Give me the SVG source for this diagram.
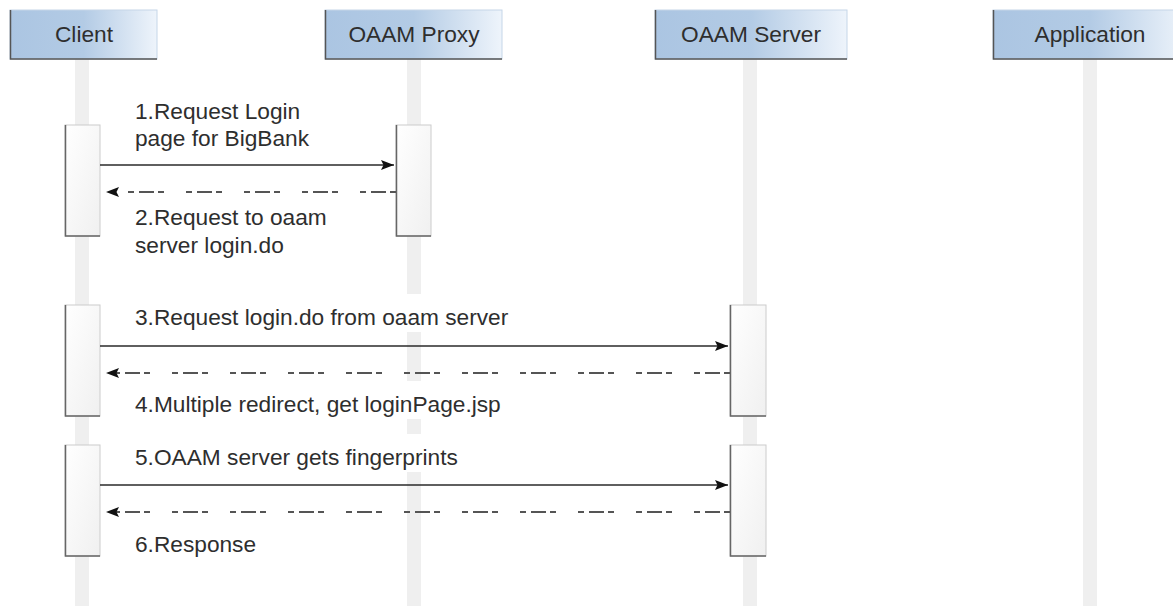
<svg xmlns="http://www.w3.org/2000/svg" width="1173" height="606" viewBox="0 0 1173 606">
  <defs>
    <linearGradient id="hdr" x1="0" y1="0" x2="1" y2="0">
      <stop offset="0" stop-color="#abc5e2"/>
      <stop offset="0.5" stop-color="#b3cbe5"/>
      <stop offset="1" stop-color="#eef4fb"/>
    </linearGradient>
    <linearGradient id="act" x1="0" y1="0" x2="1" y2="1">
      <stop offset="0" stop-color="#ffffff"/>
      <stop offset="1" stop-color="#f0f0f0"/>
    </linearGradient>
    <marker id="ah" markerUnits="userSpaceOnUse" markerWidth="16" markerHeight="12" refX="13" refY="6" orient="auto">
      <path d="M0,1 L13,6 L0,11 L2.5,6 z" fill="#111"/>
    </marker>
  </defs>
  <style>
    text { font-family: "Liberation Sans", Arial, sans-serif; font-size: 22.7px; fill: #2e2e2e; }
    .hdr rect.b { fill: url(#hdr); stroke: #c5d6e8; stroke-width: 1; }
    .hdr .sh { stroke: #555; stroke-width: 1.5; fill: none; }
    .life { fill: #efefef; }
    .act rect.b { fill: url(#act); stroke: #cccccc; stroke-width: 1; }
    .act .sh { stroke: #666; stroke-width: 1.5; fill: none; }
    .msg { stroke: #2a2a2a; stroke-width: 1.6; fill: none; marker-end: url(#ah); }
    .ret { stroke: #555; stroke-width: 1.8; fill: none; stroke-dasharray: 6 4 15 5 6 22; marker-end: url(#ah); }
    .lbg { fill: #ffffff; }
  </style>

  <!-- lifelines -->
  <g id="lifelines">
    <rect class="life" x="75" y="59" width="14" height="547"/>
    <rect class="life" x="407" y="59" width="14" height="547"/>
    <rect class="life" x="743" y="59" width="14" height="547"/>
    <rect class="life" x="1083" y="59" width="14" height="547"/>
  </g>

  <!-- headers -->
  <g id="client" class="hdr">
    <rect class="b" x="10" y="10" width="147" height="49"/>
    <path class="sh" d="M10.5,10 V59 H157"/>
    <text x="84" y="42" text-anchor="middle">Client</text>
  </g>
  <g id="proxy" class="hdr">
    <rect class="b" x="325" y="10" width="177" height="49"/>
    <path class="sh" d="M325.5,10 V59 H502"/>
    <text x="414" y="42" text-anchor="middle">OAAM Proxy</text>
  </g>
  <g id="server" class="hdr">
    <rect class="b" x="655" y="10" width="192" height="49"/>
    <path class="sh" d="M655.5,10 V59 H847"/>
    <text x="751" y="42" text-anchor="middle">OAAM Server</text>
  </g>
  <g id="application" class="hdr">
    <rect class="b" x="993" y="10" width="194" height="49"/>
    <path class="sh" d="M993.5,10 V59 H1187"/>
    <text x="1090" y="42" text-anchor="middle">Application</text>
  </g>

  <!-- label backgrounds -->
  <g id="label-bg">
    <rect class="lbg" x="130" y="294" width="388" height="38"/>
    <rect class="lbg" x="130" y="381" width="378" height="38"/>
    <rect class="lbg" x="130" y="434" width="300" height="38"/>
  </g>

  <!-- activation bars -->
  <g id="act-client-1" class="act">
    <rect class="b" x="65" y="125" width="35" height="111"/>
    <path class="sh" d="M65.5,125 V236 H100"/>
  </g>
  <g id="act-proxy-1" class="act">
    <rect class="b" x="396" y="125" width="35" height="111"/>
    <path class="sh" d="M396.5,125 V236 H431"/>
  </g>
  <g id="act-client-2" class="act">
    <rect class="b" x="65" y="305" width="35" height="111"/>
    <path class="sh" d="M65.5,305 V416 H100"/>
  </g>
  <g id="act-server-2" class="act">
    <rect class="b" x="730" y="305" width="36" height="111"/>
    <path class="sh" d="M730.5,305 V416 H766"/>
  </g>
  <g id="act-client-3" class="act">
    <rect class="b" x="65" y="445" width="35" height="111"/>
    <path class="sh" d="M65.5,445 V556 H100"/>
  </g>
  <g id="act-server-3" class="act">
    <rect class="b" x="730" y="445" width="36" height="111"/>
    <path class="sh" d="M730.5,445 V556 H766"/>
  </g>

  <!-- connectors -->
  <g id="connectors">
    <line class="msg" x1="100" y1="165" x2="394" y2="165"/>
    <line class="ret" x1="396" y1="192" x2="106" y2="192"/>
    <line class="msg" x1="100" y1="346" x2="728" y2="346"/>
    <line class="ret" x1="730" y1="373" x2="106" y2="373"/>
    <line class="msg" x1="100" y1="485" x2="728" y2="485"/>
    <line class="ret" x1="730" y1="512" x2="106" y2="512"/>
  </g>

  <!-- labels -->
  <g id="labels">
    <text x="135" y="119">1.Request Login</text>
    <text x="135" y="146">page for BigBank</text>
    <text x="135" y="225">2.Request to oaam</text>
    <text x="135" y="253">server login.do</text>
    <text x="135" y="325">3.Request login.do from oaam server</text>
    <text x="135" y="412">4.Multiple redirect, get loginPage.jsp</text>
    <text x="135" y="465">5.OAAM server gets fingerprints</text>
    <text x="135" y="552">6.Response</text>
  </g>
</svg>
